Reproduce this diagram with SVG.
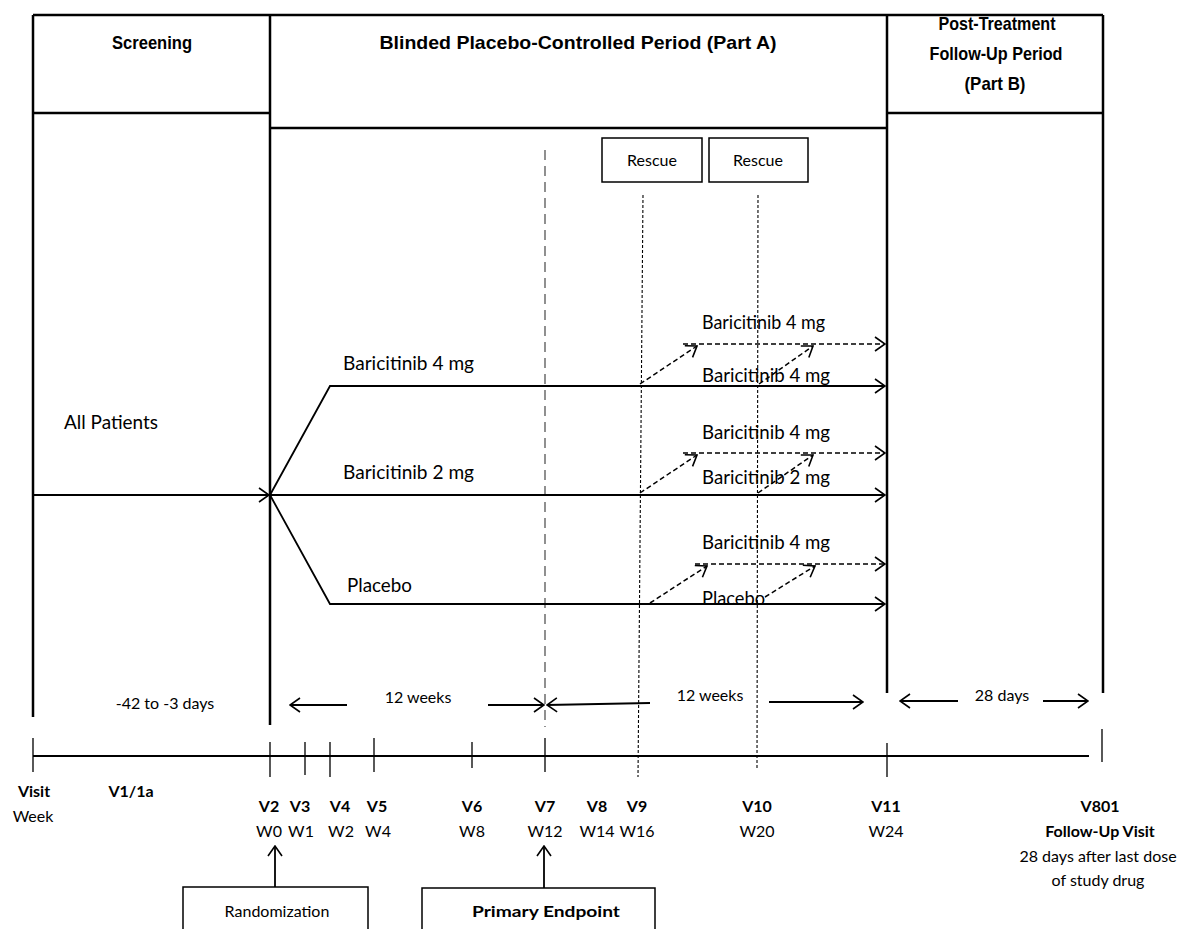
<svg xmlns="http://www.w3.org/2000/svg" width="1179" height="929" viewBox="0 0 1179 929">
  <style>
    .frame { stroke: #000; stroke-width: 2.5; fill: none; }
    .arm { stroke: #000; stroke-width: 1.8; fill: none; }
    .thin { stroke: #000; stroke-width: 1.3; fill: none; }
    .resc { stroke: #000; stroke-width: 1.5; fill: none; stroke-dasharray: 5 3; }
    .dot { stroke: #000; stroke-width: 1.1; fill: none; stroke-dasharray: 3 2; }
    .ep { stroke: #555; stroke-width: 1.3; fill: none; stroke-dasharray: 10 6; }
    .box { stroke: #000; stroke-width: 1.5; fill: #fff; }
    .hd { font-family: "Liberation Sans", Arial, sans-serif; font-weight: bold; font-size: 19px; fill: #000; text-anchor: middle; }
    .lb { font-family: Lato, "Open Sans", sans-serif; font-size: 16px; fill: #000; }
    .big { font-size: 19px; }
    .c { text-anchor: middle; }
    .b { font-weight: bold; }
  </style>
  <defs>
    <marker id="chev" viewBox="0 0 12 16" refX="11" refY="8" markerWidth="12" markerHeight="16" markerUnits="userSpaceOnUse" orient="auto">
      <path d="M1,1 L11,8 L1,15" fill="none" stroke="#000" stroke-width="1.6"/>
    </marker>
  </defs>
  <rect width="1179" height="929" fill="#fff"/>

  <!-- period frame -->
  <g id="frame">
    <path class="frame" d="M33,15 H1103 M33,15 V717 M270,15 V725 M887,15 V693 M1103,15 V693 M33,113 H270 M270,128 H887 M887,113 H1103"/>
  </g>

  <!-- period headers -->
  <g id="hdr-screening">
    <text class="hd" x="152" y="49" textLength="80" lengthAdjust="spacingAndGlyphs">Screening</text>
  </g>
  <g id="hdr-partA">
    <text class="hd" x="578" y="49" textLength="397" lengthAdjust="spacingAndGlyphs">Blinded Placebo-Controlled Period (Part A)</text>
  </g>
  <g id="hdr-partB">
    <text class="hd" x="997" y="30" textLength="117" lengthAdjust="spacingAndGlyphs">Post-Treatment</text>
    <text class="hd" x="996" y="60" textLength="133" lengthAdjust="spacingAndGlyphs">Follow-Up Period</text>
    <text class="hd" x="995" y="90" textLength="61" lengthAdjust="spacingAndGlyphs">(Part B)</text>
  </g>

  <!-- rescue boxes -->
  <g id="rescue-1">
    <rect class="box" x="602" y="138" width="100" height="44"/>
    <text class="lb c" x="652" y="166">Rescue</text>
  </g>
  <g id="rescue-2">
    <rect class="box" x="709" y="138" width="99" height="44"/>
    <text class="lb c" x="758" y="166">Rescue</text>
  </g>

  <!-- treatment arms and labels -->
  <g id="all-patients">
    <text class="lb big" x="64" y="429" textLength="94" lengthAdjust="spacingAndGlyphs">All Patients</text>
  </g>
  <g id="arm-bari4">
    <text class="lb big" x="343" y="370" textLength="131" lengthAdjust="spacingAndGlyphs">Baricitinib  4 mg</text>
  </g>
  <g id="arm-bari2">
    <text class="lb big" x="343" y="479" textLength="131" lengthAdjust="spacingAndGlyphs">Baricitinib  2 mg</text>
  </g>
  <g id="arm-placebo">
    <text class="lb big" x="347" y="592" textLength="65" lengthAdjust="spacingAndGlyphs">Placebo</text>
  </g>
  <g id="rescue-labels">
    <text class="lb big" x="702" y="329" textLength="123" lengthAdjust="spacingAndGlyphs">Baricitinib 4 mg</text>
    <text class="lb big" x="702" y="382" textLength="128" lengthAdjust="spacingAndGlyphs">Baricitinib  4 mg</text>
    <text class="lb big" x="702" y="439" textLength="128" lengthAdjust="spacingAndGlyphs">Baricitinib  4 mg</text>
    <text class="lb big" x="702" y="484" textLength="128" lengthAdjust="spacingAndGlyphs">Baricitinib  2 mg</text>
    <text class="lb big" x="702" y="549" textLength="128" lengthAdjust="spacingAndGlyphs">Baricitinib  4 mg</text>
    <text class="lb big" x="702" y="605" textLength="63" lengthAdjust="spacingAndGlyphs">Placebo</text>
  </g>

  <!-- connectors -->
  <g id="connectors">
    <!-- visit reference lines -->
    <line class="ep" x1="545" y1="150" x2="545" y2="727"/>
    <line class="dot" x1="643" y1="195" x2="638" y2="777"/>
    <line class="dot" x1="758" y1="195" x2="757" y2="768"/>

    <!-- randomization fan -->
    <line class="arm" x1="33" y1="495" x2="269" y2="495" marker-end="url(#chev)"/>
    <polyline class="arm" points="270,495 330,386 885,386" marker-end="url(#chev)"/>
    <line class="arm" x1="270" y1="495" x2="885" y2="495" marker-end="url(#chev)"/>
    <polyline class="arm" points="270,495 330,604 885,604" marker-end="url(#chev)"/>

    <!-- rescue switches -->
    <line class="resc" x1="640" y1="384" x2="697" y2="346" marker-end="url(#chev)"/>
    <line class="resc" x1="683" y1="344" x2="885" y2="344" marker-end="url(#chev)"/>
    <line class="resc" x1="759" y1="384" x2="813" y2="346" marker-end="url(#chev)"/>

    <line class="resc" x1="640" y1="493" x2="697" y2="455" marker-end="url(#chev)"/>
    <line class="resc" x1="683" y1="453" x2="885" y2="453" marker-end="url(#chev)"/>
    <line class="resc" x1="758" y1="493" x2="813" y2="455" marker-end="url(#chev)"/>

    <line class="resc" x1="650" y1="603" x2="707" y2="566" marker-end="url(#chev)"/>
    <line class="resc" x1="695" y1="564" x2="885" y2="564" marker-end="url(#chev)"/>
    <line class="resc" x1="765" y1="597" x2="815" y2="566" marker-end="url(#chev)"/>

    <!-- duration spans -->
    <line class="arm" x1="347" y1="705" x2="290" y2="705" marker-end="url(#chev)"/>
    <line class="arm" x1="488" y1="705" x2="544" y2="705" marker-end="url(#chev)"/>
    <line class="arm" x1="650" y1="703" x2="547" y2="705" marker-end="url(#chev)"/>
    <line class="arm" x1="769" y1="702" x2="863" y2="702" marker-end="url(#chev)"/>
    <line class="arm" x1="958" y1="701" x2="900" y2="701" marker-end="url(#chev)"/>
    <line class="arm" x1="1043" y1="701" x2="1088" y2="701" marker-end="url(#chev)"/>

    <!-- pointers to the visit axis -->
    <line class="arm" x1="275" y1="887" x2="275" y2="846" marker-end="url(#chev)"/>
    <line class="arm" x1="544" y1="888" x2="544" y2="846" marker-end="url(#chev)"/>
  </g>

  <!-- duration labels -->
  <g id="durations">
    <text class="lb c" x="165" y="709">-42 to -3 days</text>
    <text class="lb c" x="418" y="703">12 weeks</text>
    <text class="lb c" x="710" y="701">12 weeks</text>
    <text class="lb c" x="1002" y="701">28 days</text>
  </g>

  <!-- visit axis -->
  <g id="axis">
    <line class="arm" x1="33" y1="756" x2="1089" y2="756"/>
    <path class="thin" d="M33,738 V772 M270,742 V777 M305,742 V775 M330,742 V777 M374,738 V772 M472,742 V768 M545,738 V772 M887,743 V777 M1102,729 V762"/>
  </g>

  <!-- visit and week labels -->
  <g id="visit-labels">
    <text class="lb b c" x="34" y="797">Visit</text>
    <text class="lb c" x="33" y="822">Week</text>
    <text class="lb b c" x="131" y="797">V1/1a</text>
    <text class="lb b c" x="269" y="812">V2</text>
    <text class="lb b c" x="300" y="812">V3</text>
    <text class="lb b c" x="340" y="812">V4</text>
    <text class="lb b c" x="377" y="812">V5</text>
    <text class="lb b c" x="472" y="812">V6</text>
    <text class="lb b c" x="545" y="812">V7</text>
    <text class="lb b c" x="597" y="812">V8</text>
    <text class="lb b c" x="637" y="812">V9</text>
    <text class="lb b c" x="757" y="812">V10</text>
    <text class="lb b c" x="886" y="812">V11</text>
    <text class="lb b c" x="1100" y="812">V801</text>
    <text class="lb c" x="269" y="837">W0</text>
    <text class="lb c" x="301" y="837">W1</text>
    <text class="lb c" x="341" y="837">W2</text>
    <text class="lb c" x="378" y="837">W4</text>
    <text class="lb c" x="472" y="837">W8</text>
    <text class="lb c" x="545" y="837">W12</text>
    <text class="lb c" x="597" y="837">W14</text>
    <text class="lb c" x="637" y="837">W16</text>
    <text class="lb c" x="757" y="837">W20</text>
    <text class="lb c" x="886" y="837">W24</text>
    <text class="lb b c" x="1100" y="837">Follow-Up Visit</text>
    <text class="lb c" x="1098" y="862">28 days after last dose</text>
    <text class="lb c" x="1098" y="886">of study drug</text>
  </g>

  <!-- milestone boxes -->
  <g id="randomization">
    <path class="box" d="M183,929 V887 H368 V929"/>
    <text class="lb c" x="277" y="917" font-size="17">Randomization</text>
  </g>
  <g id="primary-endpoint">
    <path class="box" d="M422,929 V888 H655 V929"/>
    <text class="lb b c" x="546" y="917" textLength="148" lengthAdjust="spacingAndGlyphs" font-size="18">Primary Endpoint</text>
  </g>
</svg>
